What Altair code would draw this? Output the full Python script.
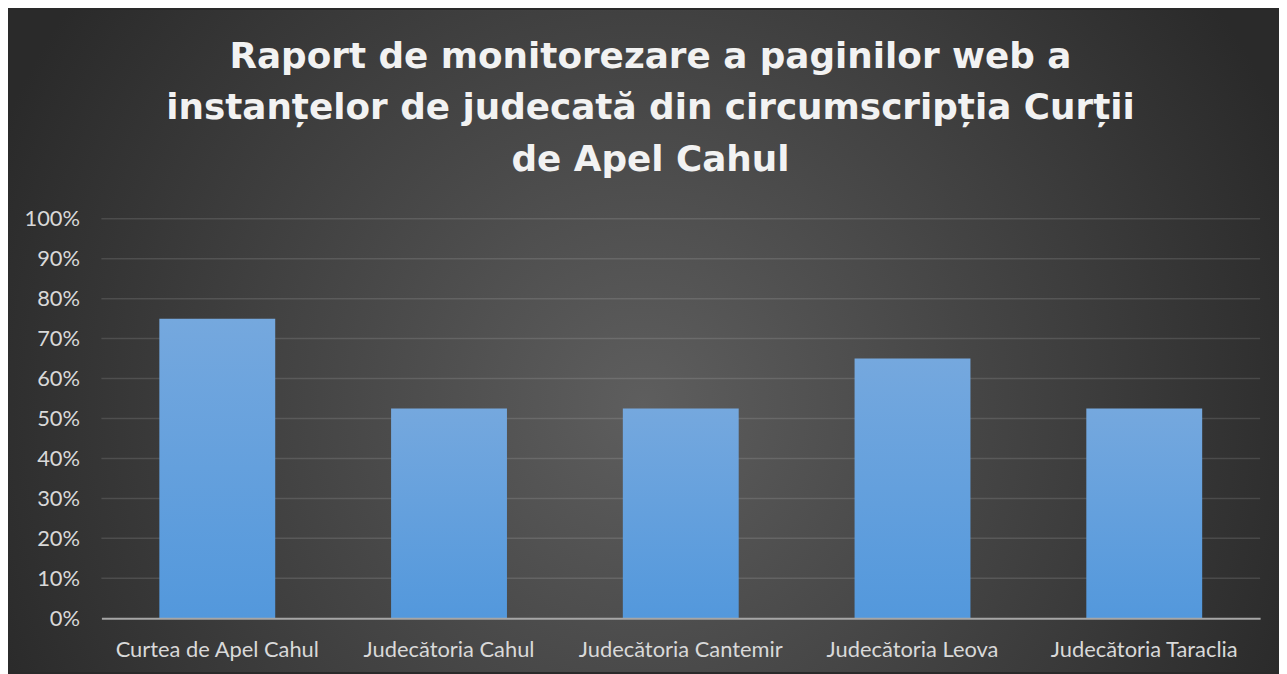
import altair as alt
import pandas as pd

categories = ["Curtea de Apel Cahul", "Judecătoria Cahul", "Judecătoria Cantemir",
              "Judecătoria Leova", "Judecătoria Taraclia"]
values = [0.75, 0.525, 0.525, 0.65, 0.525]
tick_values = [0, 0.1, 0.2, 0.3, 0.4, 0.5, 0.6, 0.7, 0.8, 0.9, 1.0]
grid_values = [0.1, 0.2, 0.3, 0.4, 0.5, 0.6, 0.7, 0.8, 0.9, 1.0]
title_lines = ["Raport de monitorezare a paginilor web a",
               "instanțelor de judecată din circumscripția Curții",
               "de Apel Cahul"]

W, H = 1166, 402
PL, PT, PR, PB = 94, 210, 19, 54

bars_df = pd.DataFrame({"cat": categories, "v": values})
grid_df = pd.DataFrame({"g": grid_values})

label_color = "#d9d9d9"
label_font = "Lato"

y_axis = alt.Axis(values=tick_values, format=".0%", grid=False, domain=False, ticks=False,
                  tickSize=0, labelPadding=22, labelFont=label_font, labelFontSize=22,
                  labelColor=label_color, title=None, zindex=1)
y_scale = alt.Scale(domain=[0, 1])

bg = alt.Chart(alt.Data(values=[{"a": 1}])).mark_rect(
    fill=alt.RadialGradient(
        gradient="radial",
        stops=[alt.GradientStop(offset=0, color="#5e5e5e"),
               alt.GradientStop(offset=1, color="#2a2a2a")],
        x1=0.5, y1=0.55, r1=0, x2=0.5, y2=0.55, r2=0.55,
    )
).encode(
    x=alt.value(-PL), x2=alt.value(W + PR),
    y=alt.value(-PT), y2=alt.value(H + PB),
)

grid = alt.Chart(grid_df).mark_rule(color="#ffffff", opacity=0.12, strokeWidth=1.5).encode(
    y=alt.Y("g:Q", scale=y_scale, axis=y_axis)
)

bars = alt.Chart(bars_df).mark_bar(
    fill=alt.LinearGradient(
        gradient="linear",
        stops=[alt.GradientStop(offset=0, color="#75a8de"),
               alt.GradientStop(offset=1, color="#5398dc")],
        x1=0, y1=0, x2=0, y2=1,
    )
).encode(
    x=alt.X("cat:N", sort=categories,
            scale=alt.Scale(paddingInner=0.5, paddingOuter=0.25),
            axis=alt.Axis(title=None, labelAngle=0, labelFont=label_font, labelFontSize=22,
                          labelColor=label_color, domainColor="#a6a6a6", domainWidth=2,
                          labelLimit=400, ticks=False, tickSize=0, labelPadding=21,
                          grid=False, zindex=1)),
    y=alt.Y("v:Q", scale=y_scale, axis=y_axis),
)

chart = alt.layer(bg, grid, bars).properties(
    width=W, height=H,
    autosize=alt.AutoSizeParams(type="none"),
    padding={"left": PL, "top": PT, "right": PR, "bottom": PB},
    title=alt.TitleParams(
        text=title_lines, font="DejaVu Sans", fontSize=36, fontWeight="bold",
        color="#f2f2f2", lineHeight=52, anchor="middle", frame="bounds",
        offset=-170, dx=7, zindex=2,
    ),
).configure(background="#2a2a2a").configure_view(stroke=None)

chart.save("out.html", embed_options={"renderer": "svg", "actions": False})
